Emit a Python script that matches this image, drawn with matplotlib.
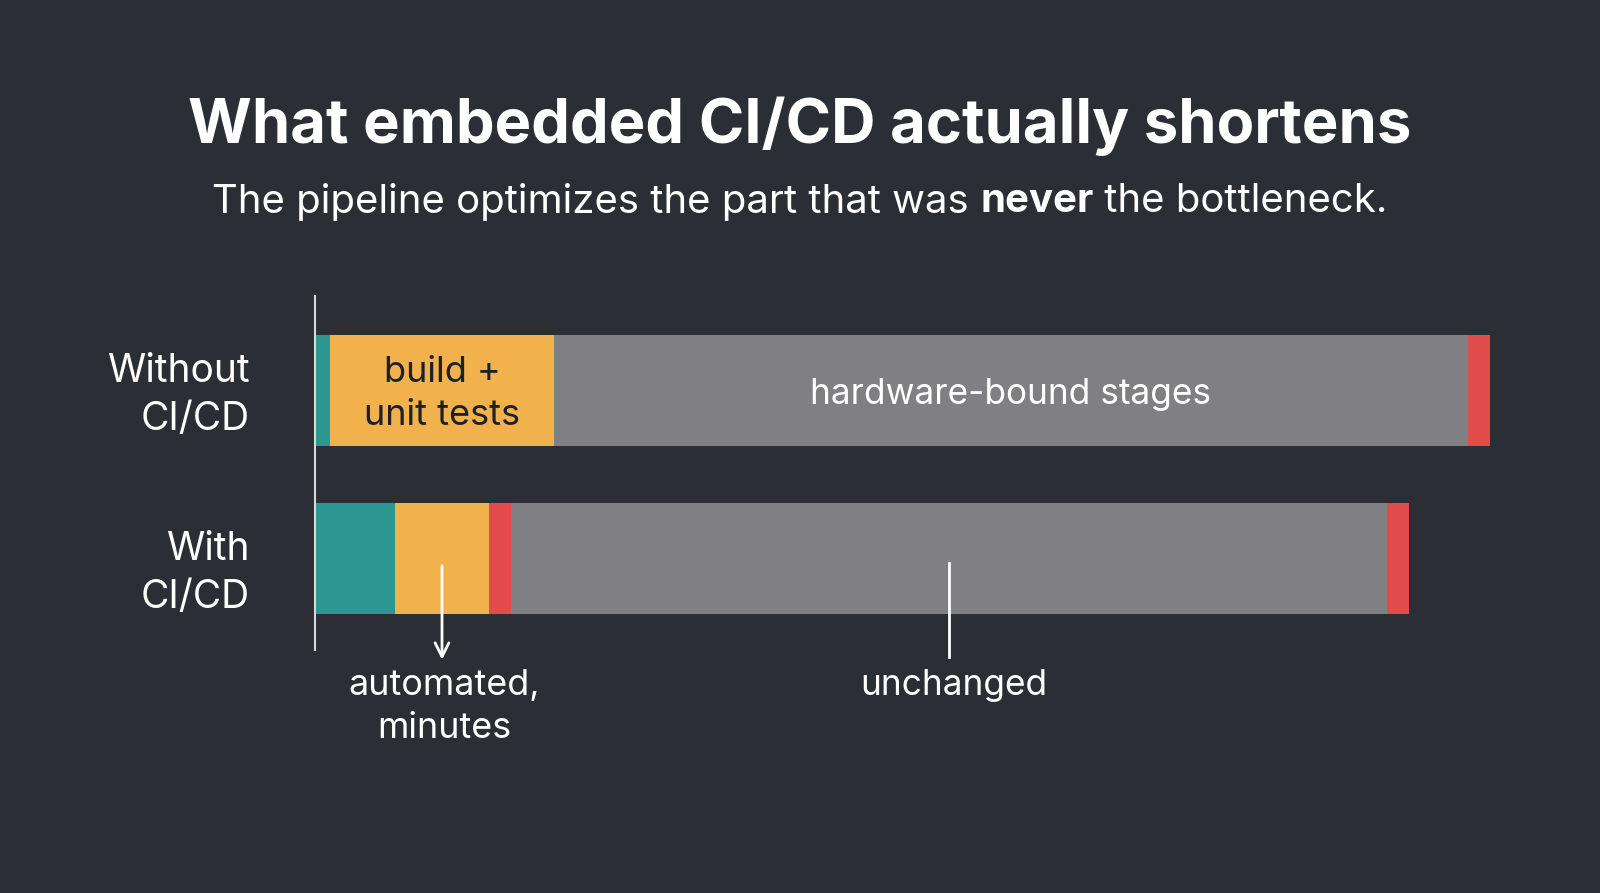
import matplotlib
matplotlib.use("Agg")
import matplotlib.pyplot as plt

plt.rcParams['font.family'] = ['Inter', 'DejaVu Sans']

BG = '#2b2e35'
FG = '#ffffff'
TEAL = '#2c9691'
ORANGE = '#f1b24e'
GRAY = '#7f7f84'
RED = '#e24b4c'

# relative durations of each stage, left to right
rows = ['Without\nCI/CD', 'With\nCI/CD']
without_segments = [1.5, 22.4, 91.4, 2.2]
without_colors = [TEAL, ORANGE, GRAY, RED]
with_segments = [8.0, 9.4, 2.2, 87.6, 2.2]
with_colors = [TEAL, ORANGE, RED, GRAY, RED]

title = 'What embedded CI/CD actually shortens'
subtitle_parts = [('The pipeline optimizes the part that was ', 'normal'),
                  ('never', 'bold'),
                  (' the bottleneck.', 'normal')]

fig = plt.figure(figsize=(16, 8.93), dpi=100, facecolor=BG)
# axes: left edge at the vertical axis line
ax = fig.add_axes([315 / 1600, (893 - 650) / 893, 1200 / 1600, 354 / 893])
ax.set_facecolor(BG)
ax.set_xlim(0, 120)
ax.set_ylim(1.545, -0.5625)


def draw_row(y, segs, colors):
    left = 0
    for w, c in zip(segs, colors):
        ax.barh(y, w, left=left, height=0.66, color=c, linewidth=0)
        left += w


draw_row(0, without_segments, without_colors)
draw_row(1, with_segments, with_colors)

# labels inside the first bar
orange_mid = without_segments[0] + without_segments[1] / 2
ax.text(orange_mid, 0.02, 'build +\nunit tests', ha='center', va='center',
        fontsize=26, color='#1d2027', linespacing=1.38)
gray_mid = sum(without_segments[:2]) + without_segments[2] / 2
ax.text(gray_mid, 0.025, 'hardware-bound stages', ha='center', va='center',
        fontsize=25.4, color=FG)

# callouts below the second bar
auto_x = with_segments[0] + with_segments[1] / 2
ax.annotate('', xy=(auto_x, 1.62), xytext=(auto_x, 1.027),
            arrowprops=dict(arrowstyle='->', color=FG, lw=2,
                            mutation_scale=25),
            annotation_clip=False)
ax.text(auto_x + 0.2, 1.885, 'automated,\nminutes', ha='center', va='center',
        fontsize=25.8, color=FG, linespacing=1.4, clip_on=False)

unch_x = sum(with_segments[:3]) + with_segments[3] / 2
ax.plot([unch_x, unch_x], [1.027, 1.586], color=FG, lw=2, clip_on=False)
ax.text(unch_x + 0.5, 1.755, 'unchanged', ha='center', va='center',
        fontsize=25.4, color=FG, clip_on=False)

# row labels sit slightly off the bar centres, as in the original
ax.set_yticks([-0.025, 1.035])
ax.set_yticklabels(rows, fontsize=28, color=FG, linespacing=1.37, ha='right')
ax.tick_params(axis='y', length=0, pad=47)
ax.set_xticks([])
for s in ['top', 'right', 'bottom']:
    ax.spines[s].set_visible(False)
ax.spines['left'].set_color('#d8d8d8')
ax.spines['left'].set_linewidth(1.5)

fig.text(0.5, 1 - 126 / 893, title, ha='center', va='center',
         fontsize=44.3, fontweight='bold', color=FG)

# subtitle with one bold word, laid out piece by piece
renderer = fig.canvas.get_renderer()
sub_y = 1 - 202 / 893
pieces = []
for txt, wt in subtitle_parts:
    t = fig.text(0, sub_y, txt, ha='left', va='center', fontsize=28.9,
                 fontweight=wt, color=FG)
    pieces.append(t)
widths = [p.get_window_extent(renderer).width for p in pieces]
x = (1600 - sum(widths)) / 2
for p, w in zip(pieces, widths):
    p.set_x(x / 1600)
    x += w

fig.savefig('out.png', dpi=100, facecolor=BG)
